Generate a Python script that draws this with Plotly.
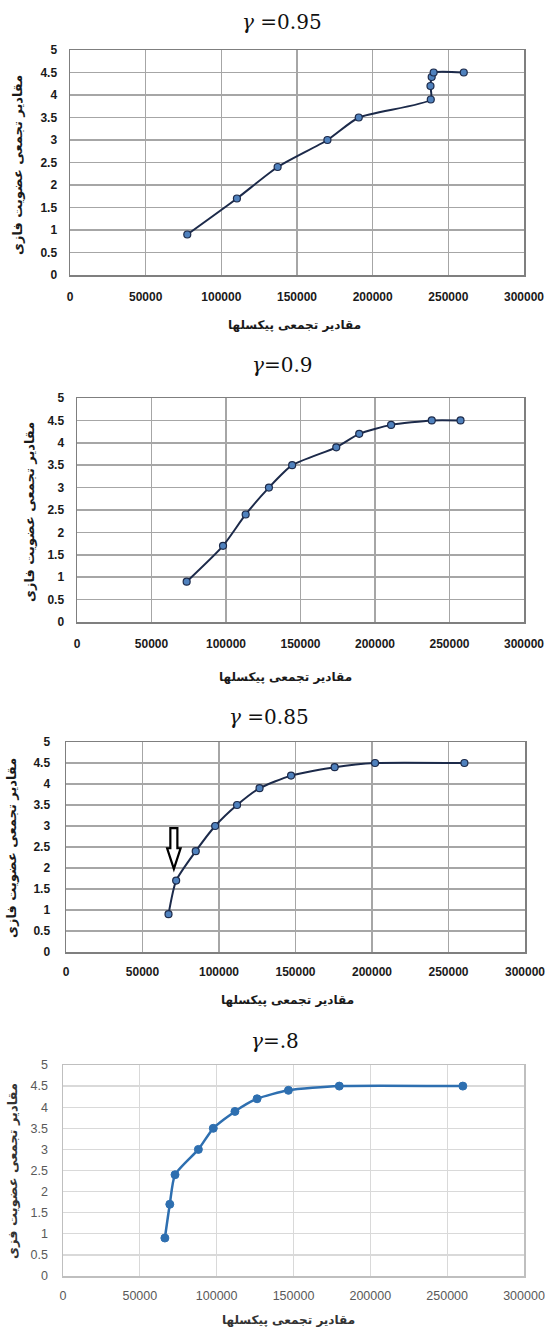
import plotly.graph_objects as go

W, H = 545, 1329

# ---------------- data ----------------
membership = [0.9, 1.7, 2.4, 3.0, 3.5, 3.9, 4.2, 4.4, 4.5, 4.5]
pixels_095 = [77500, 110300, 137200, 170100, 190800, 238400, 238200, 239000, 240300, 260200]
pixels_090 = [73600, 98000, 113200, 128800, 144400, 174000, 189400, 210800, 238100, 257400]
pixels_085 = [67000, 72000, 84800, 97500, 111800, 126500, 147100, 175600, 202000, 260400]
pixels_080 = [66300, 69500, 72900, 88100, 97800, 111900, 126300, 146700, 179800, 260200]

titles = ["<i>γ</i> =0.95", "<i>γ</i>=0.9", "<i>γ</i> =0.85", "<i>γ</i>=.8"]
y_title = "مقادیر تجمعی عضویت فازی"
y_title_last = "مقادیر تجمعی عضویت فزی"
x_title = "مقادیر تجمعی پیکسلها"

x_ticks = [0, 50000, 100000, 150000, 200000, 250000, 300000]
y_ticks = [0, 0.5, 1, 1.5, 2, 2.5, 3, 3.5, 4, 4.5, 5]

# arrow annotation in panel 3 (data units)
ARROW_X = 70500
ARROW_TOP, ARROW_NECK, ARROW_TIP = 2.95, 2.47, 1.98
ARROW_SHAFT_HALF, ARROW_HEAD_HALF = 2300, 4400

# ---------------- layout (pixel boxes) ----------------
panels = [
    dict(x=pixels_095, box=(70, 524, 50, 275), title=(282, 22), ytitle=(17, 165), xtitle=(294, 325),
         style="dark", ytxt=y_title, tl=10, yl=9),
    dict(x=pixels_090, box=(77, 524, 398, 622), title=(282, 365), ytitle=(29, 512), xtitle=(285, 677),
         style="dark", ytxt=y_title, tl=10, yl=9),
    dict(x=pixels_085, box=(66, 525, 742, 952), title=(269, 717), ytitle=(11, 848), xtitle=(287, 1000),
         style="dark", ytxt=y_title, tl=8, yl=12),
    dict(x=pixels_080, box=(63, 524, 1065, 1276), title=(275, 1041), ytitle=(12, 1171), xtitle=(288, 1320),
         style="light", ytxt=y_title_last, tl=7, yl=11),
]

fig = go.Figure()
annotations = []
layout = dict(width=W, height=H, margin=dict(l=0, r=0, t=0, b=0, autoexpand=False),
              paper_bgcolor="white", plot_bgcolor="white", showlegend=False)

for i, p in enumerate(panels, start=1):
    sfx = "" if i == 1 else str(i)
    l, r, t, b = p["box"]
    dark = p["style"] == "dark"
    if dark:
        line = dict(color="#1c2a4a", width=2, shape="spline", smoothing=0.6)
        marker = dict(color="#4f81bd", size=7, line=dict(color="#1c2a4a", width=1.2))
        grid = "#a6a6a6"; gw = 1.5; axc = "#7f7f7f"
        tfont = dict(family="Liberation Sans, Arial", size=12, color="#1a1a1a", weight="bold")
        lab_col = "#1a1a1a"
    else:
        line = dict(color="#2e6fb0", width=2.5, shape="spline", smoothing=0.6)
        marker = dict(color="#2e6fb0", size=8, line=dict(color="#2e6fb0", width=1))
        grid = "#d9d9d9"; gw = 1.2; axc = "#bfbfbf"
        tfont = dict(family="Liberation Sans, Arial", size=12.5, color="#595959")
        lab_col = "#333333"

    fig.add_trace(go.Scatter(x=p["x"], y=membership, mode="lines+markers",
                             line=line, marker=marker,
                             xaxis="x" + sfx, yaxis="y" + sfx, cliponaxis=False))

    layout["xaxis" + sfx] = dict(domain=[l / W, r / W], anchor="y" + sfx, range=[0, 300000],
                                 tickvals=x_ticks, ticktext=[str(v) for v in x_ticks],
                                 ticklabeloverflow="allow",
                                 showgrid=True, gridcolor=grid, gridwidth=gw,
                                 showline=True, linecolor=axc, linewidth=1.5, mirror=True,
                                 zeroline=False, ticks="outside", ticklen=p["tl"],
                                 tickcolor="rgba(0,0,0,0)", tickfont=tfont, fixedrange=True)
    layout["yaxis" + sfx] = dict(domain=[1 - b / H, 1 - t / H], anchor="x" + sfx, range=[0, 5],
                                 tickvals=y_ticks, ticktext=[f"{v:g}" for v in y_ticks],
                                 ticklabeloverflow="allow",
                                 showgrid=True, gridcolor=grid, gridwidth=gw,
                                 showline=True, linecolor=axc, linewidth=1.5, mirror=True,
                                 zeroline=False, ticks="outside", ticklen=p["yl"],
                                 tickcolor="rgba(0,0,0,0)", tickfont=tfont, fixedrange=True)

    tx, ty = p["title"]
    annotations.append(dict(text=titles[i - 1], x=tx / W, y=1 - ty / H, xref="paper", yref="paper",
                            xanchor="center", yanchor="middle", showarrow=False,
                            font=dict(family="DejaVu Serif, Liberation Serif", size=20, color="#111111")))
    yx, yy = p["ytitle"]
    annotations.append(dict(text=f"<b>{p['ytxt']}</b>", x=yx / W, y=1 - yy / H, xref="paper", yref="paper",
                            xanchor="center", yanchor="middle", showarrow=False, textangle=-90,
                            font=dict(family="DejaVu Sans", size=13, color=lab_col)))
    xx, xy = p["xtitle"]
    annotations.append(dict(text=f"<b>{x_title}</b>", x=xx / W, y=1 - xy / H, xref="paper", yref="paper",
                            xanchor="center", yanchor="middle", showarrow=False,
                            font=dict(family="DejaVu Sans", size=12, color=lab_col)))

layout["annotations"] = annotations

ax = ARROW_X
path = (f"M {ax - ARROW_SHAFT_HALF},{ARROW_TOP} L {ax + ARROW_SHAFT_HALF},{ARROW_TOP} "
        f"L {ax + ARROW_SHAFT_HALF},{ARROW_NECK} L {ax + ARROW_HEAD_HALF},{ARROW_NECK} "
        f"L {ax},{ARROW_TIP} L {ax - ARROW_HEAD_HALF},{ARROW_NECK} "
        f"L {ax - ARROW_SHAFT_HALF},{ARROW_NECK} Z")
layout["shapes"] = [dict(type="path", path=path, xref="x3", yref="y3",
                         line=dict(color="black", width=2.2), fillcolor="white", layer="above")]

fig.update_layout(**layout)
fig.write_html("out.html", config={"displayModeBar": False, "staticPlot": True},
               post_script="document.body.style.margin='0';document.body.style.overflow='hidden';")
